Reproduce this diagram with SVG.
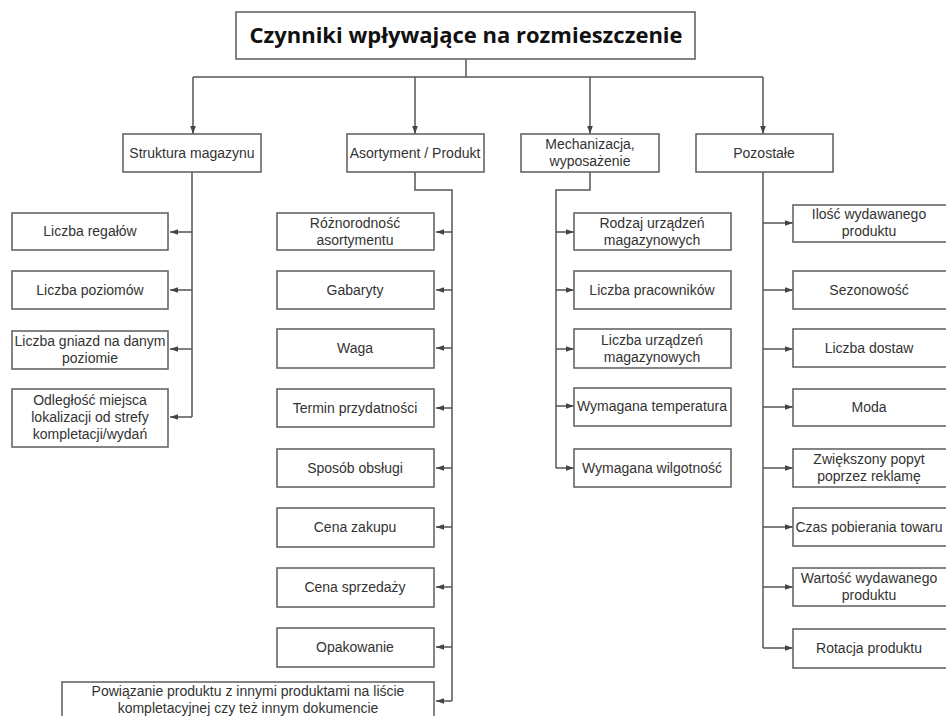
<svg xmlns="http://www.w3.org/2000/svg" width="946" height="716" viewBox="0 0 946 716">
<defs>
<marker id="ah" viewBox="0 0 10 10" refX="10" refY="5" markerWidth="8" markerHeight="8" markerUnits="userSpaceOnUse" orient="auto">
<path d="M0,1.5 L10,5 L0,8.5 z" fill="#444"/>
</marker>
<style>
.box{fill:#fff;stroke:#666;stroke-width:1.6}
.t{font-family:"Liberation Sans",Arial,sans-serif;font-size:14px;fill:#333;text-anchor:middle}
.title{font-family:"Open Sans","Liberation Sans",sans-serif;font-size:22px;font-weight:bold;fill:#111;text-anchor:middle}
.c{fill:none;stroke:#555;stroke-width:1.5}
.a{fill:none;stroke:#555;stroke-width:1.5;marker-end:url(#ah)}
</style>
</defs>
<rect width="946" height="716" fill="#fff"/>
<g id="connectors">
<path class="c" d="M466,59 V77 M193,77 H763"/>
<path class="a" d="M193,77 V134"/>
<path class="a" d="M415,77 V134"/>
<path class="a" d="M590,77 V134"/>
<path class="a" d="M763,77 V134"/>
<path class="c" d="M192,172 V417"/>
<path class="a" d="M192,232 H170"/>
<path class="a" d="M192,290 H170"/>
<path class="a" d="M192,349 H170"/>
<path class="a" d="M192,417 H170"/>
<path class="c" d="M415,172 V190 H452 V701"/>
<path class="a" d="M452,232 H436"/>
<path class="a" d="M452,290 H436"/>
<path class="a" d="M452,348 H436"/>
<path class="a" d="M452,408 H436"/>
<path class="a" d="M452,468 H436"/>
<path class="a" d="M452,527 H436"/>
<path class="a" d="M452,587 H436"/>
<path class="a" d="M452,647 H436"/>
<path class="a" d="M452,701 H436"/>
<path class="c" d="M590,172 V190 H556 V468"/>
<path class="a" d="M556,232 H574"/>
<path class="a" d="M556,290 H574"/>
<path class="a" d="M556,349 H574"/>
<path class="a" d="M556,406 H574"/>
<path class="a" d="M556,468 H574"/>
<path class="c" d="M763,172 V648"/>
<path class="a" d="M763,223 H793"/>
<path class="a" d="M763,290 H793"/>
<path class="a" d="M763,349 H793"/>
<path class="a" d="M763,407 H793"/>
<path class="a" d="M763,468 H793"/>
<path class="a" d="M763,527 H793"/>
<path class="a" d="M763,587 H793"/>
<path class="a" d="M763,648 H793"/>
</g>
<g id="title"><rect class="box" x="236" y="12" width="459" height="47"/><text class="title" x="466" y="43">Czynniki wpływające na rozmieszczenie</text></g>
<g id="struktura"><rect class="box" x="123" y="134" width="138" height="38"/><text class="t" x="192" y="158">Struktura magazynu</text></g>
<g id="asortyment"><rect class="box" x="347" y="134" width="137" height="38"/><text class="t" x="415" y="158">Asortyment / Produkt</text></g>
<g id="mechanizacja"><rect class="box" x="521" y="134" width="138" height="38"/><text class="t" x="590" y="149">Mechanizacja,</text><text class="t" x="590" y="166">wyposażenie</text></g>
<g id="pozostale"><rect class="box" x="696" y="134" width="137" height="38"/><text class="t" x="764" y="158">Pozostałe</text></g>

<g id="s1"><rect class="box" x="12" y="213" width="156" height="37"/><text class="t" x="90" y="236">Liczba regałów</text></g>
<g id="s2"><rect class="box" x="12" y="271" width="156" height="38"/><text class="t" x="90" y="295">Liczba poziomów</text></g>
<g id="s3"><rect class="box" x="12" y="331" width="156" height="38"/><text class="t" x="90" y="346">Liczba gniazd na danym</text><text class="t" x="90" y="363">poziomie</text></g>
<g id="s4"><rect class="box" x="12" y="389" width="156" height="58"/><text class="t" x="90" y="405">Odległość miejsca</text><text class="t" x="90" y="422">lokalizacji od strefy</text><text class="t" x="90" y="439">kompletacji/wydań</text></g>

<g id="a1"><rect class="box" x="277" y="213" width="157" height="37"/><text class="t" x="355" y="228">Różnorodność</text><text class="t" x="355" y="245">asortymentu</text></g>
<g id="a2"><rect class="box" x="277" y="271" width="157" height="38"/><text class="t" x="355" y="295">Gabaryty</text></g>
<g id="a3"><rect class="box" x="277" y="329" width="157" height="39"/><text class="t" x="355" y="353">Waga</text></g>
<g id="a4"><rect class="box" x="277" y="389" width="157" height="38"/><text class="t" x="355" y="413">Termin przydatności</text></g>
<g id="a5"><rect class="box" x="277" y="449" width="157" height="38"/><text class="t" x="355" y="473">Sposób obsługi</text></g>
<g id="a6"><rect class="box" x="277" y="508" width="157" height="39"/><text class="t" x="355" y="532">Cena zakupu</text></g>
<g id="a7"><rect class="box" x="277" y="568" width="157" height="39"/><text class="t" x="355" y="592">Cena sprzedaży</text></g>
<g id="a8"><rect class="box" x="277" y="628" width="157" height="39"/><text class="t" x="355" y="652">Opakowanie</text></g>
<g id="a9"><rect class="box" x="62" y="682" width="372" height="40"/><text class="t" x="248" y="696">Powiązanie produktu z innymi produktami na liście</text><text class="t" x="248" y="713">kompletacyjnej czy też innym dokumencie</text></g>

<g id="m1"><rect class="box" x="574" y="213" width="157" height="37"/><text class="t" x="652" y="228">Rodzaj urządzeń</text><text class="t" x="652" y="245">magazynowych</text></g>
<g id="m2"><rect class="box" x="574" y="271" width="157" height="38"/><text class="t" x="652" y="295">Liczba pracowników</text></g>
<g id="m3"><rect class="box" x="574" y="329" width="157" height="39"/><text class="t" x="652" y="345">Liczba urządzeń</text><text class="t" x="652" y="362">magazynowych</text></g>
<g id="m4"><rect class="box" x="574" y="388" width="157" height="38"/><text class="t" x="652" y="411">Wymagana temperatura</text></g>
<g id="m5"><rect class="box" x="574" y="449" width="157" height="38"/><text class="t" x="652" y="473">Wymagana wilgotność</text></g>

<g id="p1"><rect class="box" x="793" y="205" width="156" height="37"/><text class="t" x="869" y="219">Ilość wydawanego</text><text class="t" x="869" y="236">produktu</text></g>
<g id="p2"><rect class="box" x="793" y="271" width="156" height="38"/><text class="t" x="869" y="295">Sezonowość</text></g>
<g id="p3"><rect class="box" x="793" y="329" width="156" height="38"/><text class="t" x="869" y="353">Liczba dostaw</text></g>
<g id="p4"><rect class="box" x="793" y="389" width="156" height="37"/><text class="t" x="869" y="412">Moda</text></g>
<g id="p5"><rect class="box" x="793" y="449" width="156" height="38"/><text class="t" x="869" y="464">Zwiększony popyt</text><text class="t" x="869" y="481">poprzez reklamę</text></g>
<g id="p6"><rect class="box" x="793" y="508" width="156" height="38"/><text class="t" x="869" y="532">Czas pobierania towaru</text></g>
<g id="p7"><rect class="box" x="793" y="568" width="156" height="38"/><text class="t" x="869" y="583">Wartość wydawanego</text><text class="t" x="869" y="600">produktu</text></g>
<g id="p8"><rect class="box" x="793" y="629" width="156" height="39"/><text class="t" x="869" y="653">Rotacja produktu</text></g>
</svg>
